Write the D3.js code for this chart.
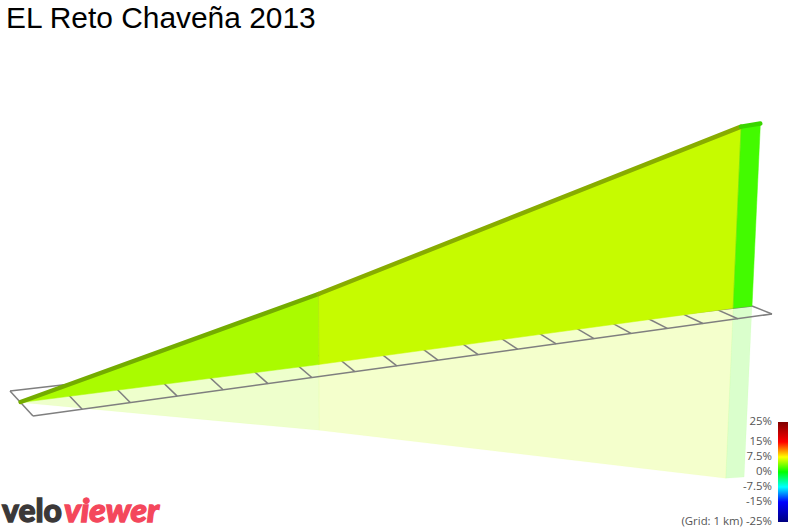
<!DOCTYPE html>
<html><head><meta charset="utf-8">
<script src="https://cdn.jsdelivr.net/npm/d3@7"></script>
<style>html,body{margin:0;padding:0;background:#fff}svg{display:block}</style>
</head><body><svg id="c" width="790" height="529"></svg>
<script>
const title = "EL Reto Chaveña 2013";
const gridKm = d3.range(0, 19);
const routeKm = [0, 6.45, 17.45, 18];
const routeLateral = [0.46, 0.43, 0, 0];
const routeElevation = [0, 70, 181, 182];
const segmentGrade = [5.05, 5.9, 2.0];
const legendGrades = [25, 15, 7.5, 0, -7.5, -15, -25];
const legendLabels = ["25%", "15%", "7.5%", "0%", "-7.5%", "-15%", "(Grid: 1 km) -25%"];
const legendColors = ["#7f0000", "#ff0000", "#ffff00", "#00ff00", "#00ffff", "#0000ff", "#00007f"];

const svg = d3.select("#c");
const grade = d3.scaleLinear().domain(legendGrades).range(legendColors);

// Perspective along the route
const kmT = d3.scaleLinear().domain([0, 18]).range([0, 1]);
const persp = k => { const t = kmT(k); return t / (t + (1 - t) * 0.825); };
const backX = d3.scaleLinear().range([10, 752]), backY = d3.scaleLinear().range([391, 306]);
const frontX = d3.scaleLinear().range([33, 772]), frontY = d3.scaleLinear().range([416, 314]);
const ground = (k, lat) => {
  const s = persp(k);
  return [backX(s) + (frontX(s) - backX(s)) * lat, backY(s) + (frontY(s) - backY(s)) * lat];
};
const lift = d3.scaleLinear().domain([0, 200]).range([0, 200]);
const lean = d3.scaleLinear().domain([370, 733]).range([0, 0.0436]);
const REFLECT = 0.94;
const pts = routeKm.map((k, i) => {
  const [x, y] = ground(k, routeLateral[i]);
  const h = lift(routeElevation[i]);
  const l = lean(x);
  return {base: [x, y], top: [x + l * h, y - h], mirror: [x - l * h * REFLECT, y + h * REFLECT]};
});
const line = d3.line();
const segs = d3.range(segmentGrade.length).map(i => ({a: pts[i], b: pts[i + 1], c: grade(segmentGrade[i]), steep: segmentGrade[i] > 3}));

// reflection
svg.append("g").selectAll("path").data(segs).join("path")
  .attr("d", d => line([d.a.base, d.b.base, d.b.mirror, d.a.mirror]) + "Z")
  .attr("fill", d => d.c).attr("fill-opacity", 0.2)
  .attr("stroke", d => d.c).attr("stroke-opacity", 0.04);

// ground grid
const g = svg.append("g").attr("stroke", "#7f7f7f").attr("stroke-width", 1.5).attr("fill", "none");
g.selectAll("line").data(gridKm).join("line")
  .attr("x1", k => ground(k, 0)[0]).attr("y1", k => ground(k, 0)[1])
  .attr("x2", k => ground(k, 1)[0]).attr("y2", k => ground(k, 1)[1]);
g.append("path").attr("d", line([ground(0, 0), ground(18, 0)]));
g.append("path").attr("d", line([ground(0, 1), ground(18, 1)]));

// walls
const wallColor = c => d3.color(c).darker(0.04).formatHex();
svg.append("g").selectAll("path").data(segs).join("path")
  .attr("d", d => line([d.a.base, d.b.base, d.b.top, d.a.top]) + "Z")
  .attr("fill", d => wallColor(d.c))
  .attr("stroke", d => wallColor(d.c)).attr("stroke-width", 0.5);
svg.append("g").selectAll("line").data(pts.slice(1, 3)).join("line")
  .attr("x1", d => d.base[0]).attr("y1", d => d.base[1])
  .attr("x2", d => d.top[0]).attr("y2", d => d.top[1])
  .attr("stroke", (d, i) => d3.color(segs[i].c).darker(0.6)).attr("stroke-opacity", 0.3).attr("stroke-width", 1);

// road ribbon
svg.append("g").attr("transform", "translate(0,-0.5)").selectAll("path").data(segs).join("path")
  .attr("d", d => line([d.a.top, d.b.top]))
  .attr("stroke", d => d3.color(d.c).darker(d.steep ? 1.1 : 0.5))
  .attr("stroke-width", 4.4).attr("stroke-linecap", "round").attr("fill", "none");

// title
svg.append("text").attr("x", 6).attr("y", 28).text(title)
  .attr("font-family", "Liberation Sans, Arial, sans-serif").attr("font-size", 29.9).attr("fill", "#000");

// legend
const legendY = d3.scaleLinear().domain([-25, 25]).range([521, 421]);
const defs = svg.append("defs");
const lg = defs.append("linearGradient").attr("id", "lg").attr("x1", 0).attr("x2", 0).attr("y1", 0).attr("y2", 1);
lg.selectAll("stop").data(legendGrades).join("stop")
  .attr("offset", d => (25 - d) / 50).attr("stop-color", d => grade(d));
svg.append("rect").attr("x", 778).attr("y", legendY(25) + 1).attr("width", 10).attr("height", 100).attr("fill", "url(#lg)");
svg.append("g").selectAll("text").data(legendGrades).join("text")
  .attr("x", 772).attr("y", d => legendY(d)).attr("dy", "0.36em").attr("text-anchor", "end")
  .attr("font-family", "Open Sans, sans-serif").attr("font-size", 11.4).attr("fill", "#555")
  .text((d, i) => legendLabels[i]);

// logo
const logo = svg.append("g").attr("font-family", "Lato, sans-serif").attr("font-weight", 900).attr("font-size", 33).attr("stroke-width", 1.3);
logo.append("text").attr("x", 2).attr("y", 522).attr("fill", "#3b3838").attr("stroke", "#3b3838").attr("textLength", 60).attr("lengthAdjust", "spacingAndGlyphs").text("velo");
logo.append("text").attr("x", 64).attr("y", 522).attr("fill", "#f4475c").attr("stroke", "#f4475c").attr("font-style", "italic").attr("textLength", 95).attr("lengthAdjust", "spacingAndGlyphs").text("viewer");
</script></body></html>
